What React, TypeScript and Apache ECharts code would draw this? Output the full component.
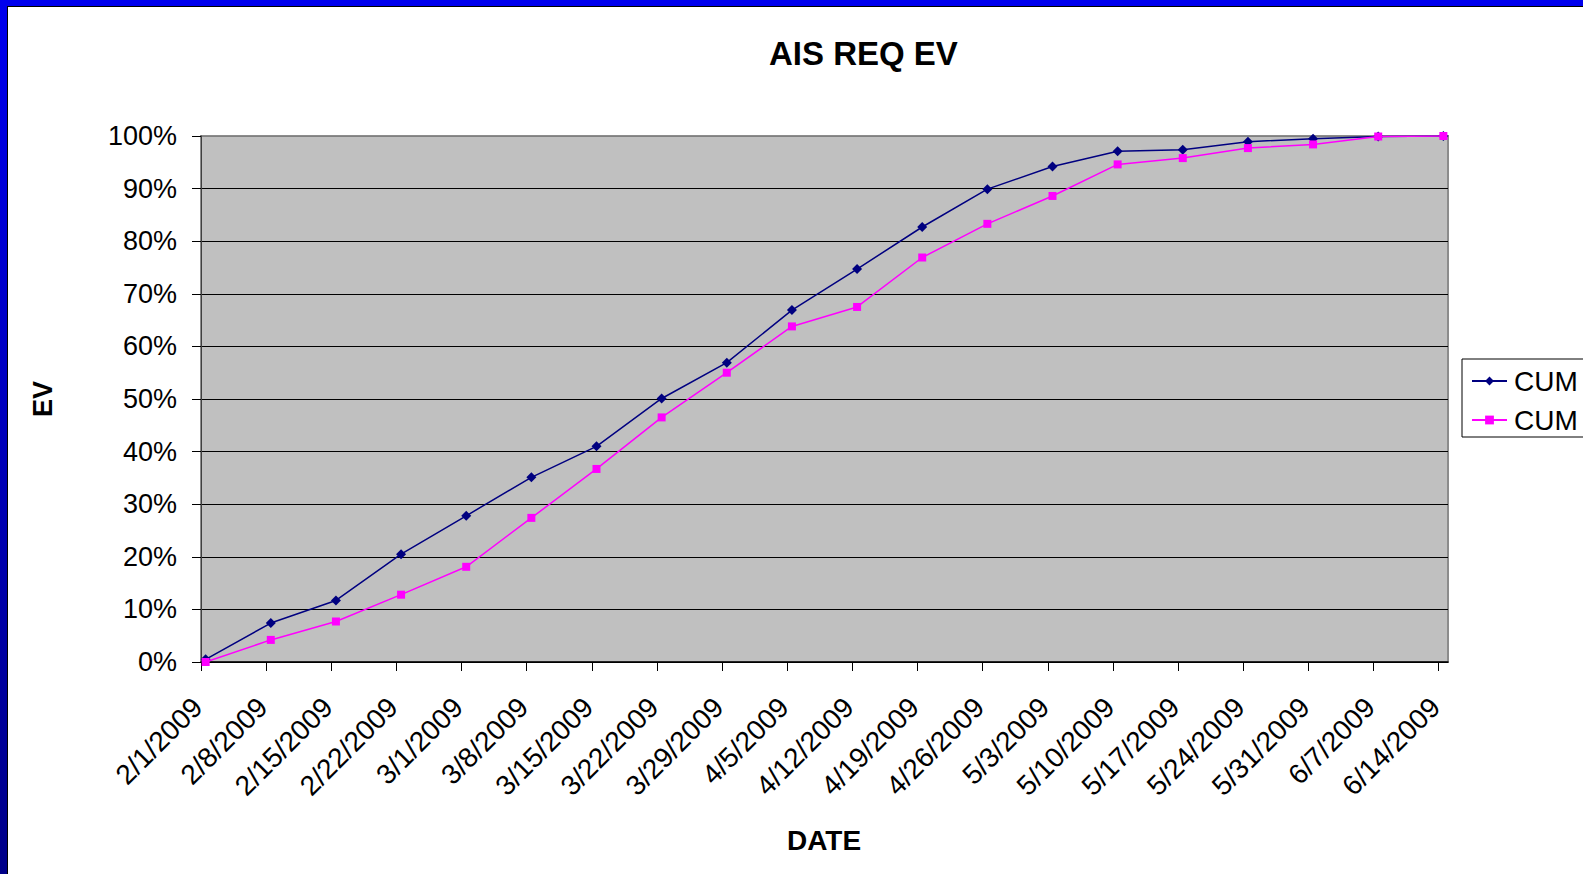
import React, { useEffect, useRef } from "react";
import * as echarts from "echarts";

const TITLE = "AIS REQ EV";
const X_NAME = "DATE";
const Y_NAME = "EV";
const DATES = [
  "2/1/2009", "2/8/2009", "2/15/2009", "2/22/2009", "3/1/2009", "3/8/2009",
  "3/15/2009", "3/22/2009", "3/29/2009", "4/5/2009", "4/12/2009", "4/19/2009",
  "4/26/2009", "5/3/2009", "5/10/2009", "5/17/2009", "5/24/2009", "5/31/2009",
  "6/7/2009", "6/14/2009",
];
const X_MIN_DATE = "2/1/2009";
const X_MAX_DATE = "6/15/2009";
const SERIES_NAMES = ["CUM", "CUM "];
const CUM_A = [0.5, 7.4, 11.7, 20.5, 27.8, 35.1, 41.0, 50.1, 56.9, 66.9, 74.7, 82.7, 89.9, 94.2, 97.1, 97.4, 98.9, 99.5, 99.9, 100];
const CUM_B = [0, 4.2, 7.7, 12.8, 18.1, 27.4, 36.7, 46.5, 55.0, 63.8, 67.5, 76.9, 83.3, 88.6, 94.6, 95.8, 97.7, 98.4, 99.9, 100];
const Y_MIN = 0;
const Y_MAX = 100;
const Y_STEP = 10;

const FONT = "'Liberation Sans', Arial, Helvetica, sans-serif";

function dayNum(s: string): number {
  const [m, d, y] = s.split("/").map(Number);
  return Date.UTC(y, m - 1, d) / 86400000;
}

export default function App() {
  const ref = useRef<HTMLDivElement>(null);
  useEffect(() => {
    if (!ref.current) return;
    const chart = echarts.init(ref.current, null, { renderer: "svg" });
    const base = dayNum(X_MIN_DATE);
    const tickVals = DATES.map((d) => dayNum(d) - base);
    const labelOf = (v: number) => {
      const i = tickVals.indexOf(Math.round(v));
      return i >= 0 ? DATES[i] : "";
    };
    // Excel date axis places each point in the middle of its day slot
    const toPts = (vals: number[]) => vals.map((v, i) => [tickVals[i] + 0.5, v]);
    const splitColors: string[] = [];
    for (let v = Y_MIN; v <= Y_MAX; v += Y_STEP) splitColors.push(v === Y_MAX ? "#808080" : "#000000");

    chart.setOption({
      animation: false,
      backgroundColor: "#ffffff",
      title: {
        text: TITLE,
        left: 769,
        top: 37,
        padding: 0,
        textStyle: { fontFamily: FONT, fontSize: 33, fontWeight: "bold", color: "#000" },
      },
      legend: {
        orient: "vertical",
        left: 1462,
        top: 359,
        padding: [8, 12, 3, 9],
        itemGap: 11,
        itemWidth: 35,
        itemHeight: 11,
        backgroundColor: "#ffffff",
        borderColor: "#000000",
        borderWidth: 1,
        borderRadius: 0,
        formatter: (n: string) => n.trim(),
        textStyle: { fontFamily: FONT, fontSize: 28, color: "#000", padding: [0, 0, 0, 2] },
        data: SERIES_NAMES,
      },
      grid: {
        left: 201,
        right: 135,
        top: 136,
        bottom: 212,
        show: true,
        backgroundColor: "#C0C0C0",
        borderColor: "#8c8c8c",
        borderWidth: 2,
      },
      xAxis: {
        type: "value",
        min: 0,
        max: dayNum(X_MAX_DATE) - base,
        axisLine: { show: true, onZero: false, lineStyle: { color: "#000", width: 1.5 } },
        axisTick: {
          show: true,
          length: 9,
          customValues: tickVals,
          lineStyle: { color: "#000", width: 1 },
        },
        axisLabel: {
          customValues: tickVals,
          rotate: 45,
          margin: 37,
          padding: [0, 5, 0, 0],
          formatter: (v: number) => labelOf(v),
          fontFamily: FONT,
          fontSize: 28,
          color: "#000",
        },
        splitLine: { show: false },
      },
      yAxis: {
        type: "value",
        min: Y_MIN,
        max: Y_MAX,
        interval: Y_STEP,
        axisLine: { show: true, lineStyle: { color: "#404040", width: 1 } },
        axisTick: { show: true, length: 9, lineStyle: { color: "#000", width: 1 } },
        axisLabel: {
          margin: 24,
          formatter: "{value}%",
          fontFamily: FONT,
          fontSize: 27,
          color: "#000",
        },
        splitLine: { show: true, lineStyle: { color: splitColors, width: 1.2 } },
      },
      graphic: [
        {
          type: "text",
          x: 824,
          y: 840,
          style: {
            text: X_NAME,
            fontFamily: FONT,
            fontSize: 28,
            fontWeight: "bold",
            fill: "#000",
            align: "center",
            verticalAlign: "middle",
          },
        },
        {
          type: "text",
          x: 43,
          y: 399,
          rotation: Math.PI / 2,
          style: {
            text: Y_NAME,
            fontFamily: FONT,
            fontSize: 27,
            fontWeight: "bold",
            fill: "#000",
            align: "center",
            verticalAlign: "middle",
          },
        },
        {
          type: "rect",
          shape: { x: 0, y: 0, width: 1583, height: 6 },
          style: { fill: "#0000EE" },
          z: 100,
        },
        {
          type: "rect",
          shape: { x: 0, y: 0, width: 7, height: 874 },
          style: {
            fill: new echarts.graphic.LinearGradient(0, 0, 0, 1, [
              { offset: 0, color: "#0000EE" },
              { offset: 1, color: "#000088" },
            ]),
          },
          z: 100,
        },
        {
          type: "line",
          shape: { x1: 7, y1: 6.5, x2: 1583, y2: 6.5 },
          style: { stroke: "#000", lineWidth: 1 },
          z: 100,
        },
        {
          type: "line",
          shape: { x1: 7.5, y1: 6, x2: 7.5, y2: 874 },
          style: { stroke: "#000", lineWidth: 1 },
          z: 100,
        },
      ],
      series: [
        {
          name: SERIES_NAMES[0],
          type: "line",
          data: toPts(CUM_A),
          symbol: "diamond",
          symbolSize: 10,
          itemStyle: { color: "#000080" },
          lineStyle: { color: "#000080", width: 1.5 },
          z: 3,
        },
        {
          name: SERIES_NAMES[1],
          type: "line",
          data: toPts(CUM_B),
          symbol: "rect",
          symbolSize: 8,
          itemStyle: { color: "#FF00FF" },
          lineStyle: { color: "#FF00FF", width: 1.5 },
          z: 4,
        },
      ],
    });
    return () => chart.dispose();
  }, []);
  return (
    <div
      ref={ref}
      style={{ position: "absolute", left: 0, top: 0, width: 1583, height: 874 }}
    />
  );
}
